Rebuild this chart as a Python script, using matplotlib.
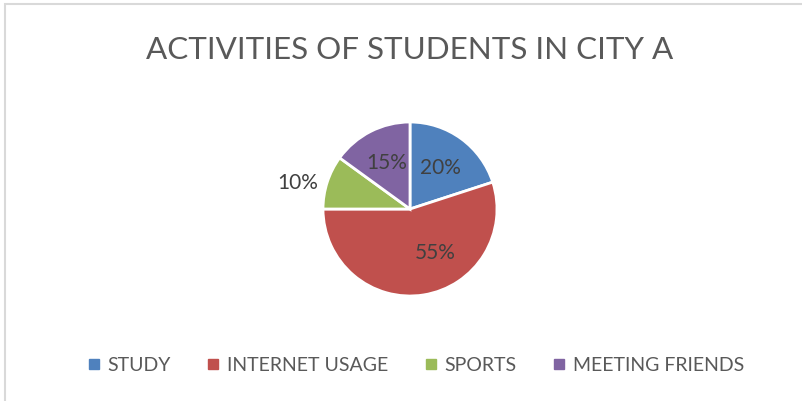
import matplotlib.pyplot as plt
from matplotlib.patches import Rectangle
from matplotlib.lines import Line2D

activities = ['STUDY', 'INTERNET USAGE', 'SPORTS', 'MEETING FRIENDS']
shares = [20, 55, 10, 15]
colors = ['#4f81bd', '#c0504d', '#9bbb59', '#8064a2']

plt.rcParams['font.family'] = ['Lato', 'DejaVu Sans']

W, H = 803, 402
fig = plt.figure(figsize=(W / 100, H / 100), dpi=100)
fig.patch.set_facecolor('white')

# light chart-area frame (only top and left edges are visible)
fig.add_artist(Rectangle((5 / W, -0.1), 1.2, 1 - 5 / H + 0.1, transform=fig.transFigure,
                         fill=False, edgecolor='#d9d9d9', linewidth=1.5))

fig.text(410 / W, 1 - 50 / H, 'ACTIVITIES OF STUDENTS IN CITY A', ha='center', va='center',
         fontsize=22.6, color='#595959')

# pie centred at (410, 210) px with radius 87 px
cx, cy, r = 410, 210, 87
ax = fig.add_axes([(cx - r) / W, (H - cy - r) / H, 2 * r / W, 2 * r / H])
wedges, texts, autotexts = ax.pie(
    shares,
    colors=colors,
    startangle=90,
    counterclock=False,
    autopct='%d%%',
    pctdistance=0.6,
    wedgeprops=dict(edgecolor='white', linewidth=2),
    textprops=dict(fontsize=15, color='#404040'),
)
ax.set_xlim(-1, 1)
ax.set_ylim(-1, 1)
ax.set_aspect('equal')
ax.axis('off')

# Excel-style label placement for the big and the small slice
autotexts[1].set_position((0.29, -0.49))
autotexts[2].set_position((-1.29, 0.31))

handles = [Line2D([], [], marker='s', linestyle='none', markersize=7,
                  markerfacecolor=c, markeredgecolor=c) for c in colors]
fig.legend(handles, activities, loc='center', bbox_to_anchor=(416 / W, 1 - 366 / H),
           ncol=4, frameon=False, fontsize=14, labelcolor='#595959',
           handlelength=0.6, handletextpad=0.4, columnspacing=1.9)

fig.savefig('out.png', dpi=100)
